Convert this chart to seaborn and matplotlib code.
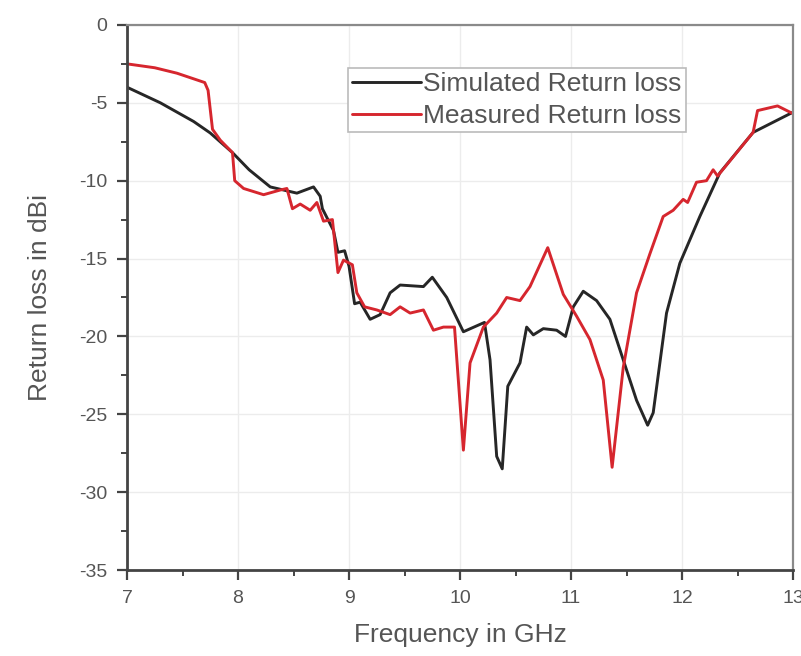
import matplotlib
matplotlib.use("Agg")
import matplotlib.pyplot as plt
from matplotlib.ticker import MultipleLocator
import seaborn as sns
import pandas as pd

# Simulated return loss (frequency in GHz, level in dB)
sim_freq = [7.0, 7.3, 7.6, 7.75, 7.95, 8.1, 8.29, 8.53, 8.68, 8.74, 8.76, 8.86, 8.90,
            8.96, 9.0, 9.05, 9.1, 9.19, 9.28, 9.37, 9.46, 9.67, 9.75, 9.88, 10.03,
            10.22, 10.27, 10.33, 10.38, 10.43, 10.54, 10.6, 10.66, 10.75, 10.87, 10.95,
            11.02, 11.11, 11.23, 11.35, 11.47, 11.59, 11.69, 11.74, 11.86, 11.98, 12.16,
            12.34, 12.64, 13.0]
sim_loss = [-4.0, -5.0, -6.2, -6.94, -8.2, -9.3, -10.4, -10.8, -10.4, -11.0, -11.8,
            -13.2, -14.6, -14.5, -15.5, -17.9, -17.8, -18.9, -18.6, -17.2, -16.7, -16.8,
            -16.2, -17.5, -19.7, -19.1, -21.5, -27.7, -28.5, -23.2, -21.7, -19.4, -19.9,
            -19.5, -19.6, -20.0, -18.1, -17.1, -17.7, -18.9, -21.5, -24.1, -25.7, -24.9,
            -18.5, -15.3, -12.3, -9.5, -6.9, -5.6]

# Measured return loss
meas_freq = [7.0, 7.25, 7.45, 7.70, 7.73, 7.77, 7.84, 7.95, 7.97, 8.05, 8.23, 8.38,
             8.44, 8.49, 8.56, 8.65, 8.71, 8.77, 8.85, 8.90, 8.95, 9.03, 9.07, 9.14,
             9.25, 9.37, 9.46, 9.55, 9.67, 9.76, 9.85, 9.95, 10.03, 10.09, 10.21,
             10.33, 10.42, 10.54, 10.63, 10.79, 10.93, 11.05, 11.17, 11.29, 11.37,
             11.47, 11.59, 11.71, 11.83, 11.92, 12.01, 12.05, 12.13, 12.22, 12.28,
             12.32, 12.64, 12.68, 12.86, 13.0]
meas_loss = [-2.5, -2.75, -3.1, -3.7, -4.2, -6.7, -7.4, -8.2, -10.0, -10.5, -10.9,
             -10.6, -10.5, -11.8, -11.5, -11.9, -11.4, -12.6, -12.5, -15.9, -15.1,
             -15.4, -17.2, -18.1, -18.3, -18.6, -18.1, -18.5, -18.3, -19.6, -19.4,
             -19.4, -27.3, -21.7, -19.4, -18.5, -17.5, -17.7, -16.8, -14.3, -17.3,
             -18.7, -20.2, -22.8, -28.4, -22.0, -17.2, -14.7, -12.3, -11.9, -11.2,
             -11.4, -10.1, -10.0, -9.3, -9.7, -6.9, -5.5, -5.2, -5.7]

series_names = ["Simulated Return loss", "Measured Return loss"]
series_colors = ["#262626", "#d6262e"]

df = pd.concat([
    pd.DataFrame({"freq": sim_freq, "loss": sim_loss, "series": series_names[0]}),
    pd.DataFrame({"freq": meas_freq, "loss": meas_loss, "series": series_names[1]}),
], ignore_index=True)

sns.set_theme(style="white")
plt.rcParams["font.family"] = ["Liberation Sans", "DejaVu Sans"]
plt.rcParams["axes.unicode_minus"] = False

fig = plt.figure(figsize=(8.01, 6.56), dpi=100)
ax = fig.add_axes([0.1586, 0.131, 0.8315, 0.831])

sns.lineplot(data=df, x="freq", y="loss", hue="series", hue_order=series_names,
             palette=series_colors, sort=False, estimator=None, linewidth=2.1, ax=ax)

ax.set_xlim(7, 13)
ax.set_ylim(-35, 0)
ax.xaxis.set_major_locator(MultipleLocator(1))
ax.xaxis.set_minor_locator(MultipleLocator(0.5))
ax.yaxis.set_major_locator(MultipleLocator(5))
ax.yaxis.set_minor_locator(MultipleLocator(2.5))
ax.grid(True, which="major", color="#ececec", linewidth=1.0)

ax.tick_params(axis="both", which="major", direction="out", length=7, width=1.6,
               color="#444444", labelsize=14, labelcolor="#555555", pad=7,
               bottom=True, left=True)
ax.tick_params(axis="both", which="minor", direction="out", length=4, width=1.4,
               color="#444444", bottom=True, left=True)

for side in ["left", "bottom"]:
    ax.spines[side].set_color("#444444")
    ax.spines[side].set_linewidth(2.0)
for side in ["top", "right"]:
    ax.spines[side].set_color("#8a8a8a")
    ax.spines[side].set_linewidth(1.6)

ax.set_xlabel("Frequency in GHz", fontsize=19, color="#555555", labelpad=12)
ax.set_ylabel("Return loss in dBi", fontsize=19, color="#555555", labelpad=20)

leg = ax.legend(loc="upper left", bbox_to_anchor=(0.332, 0.921), borderaxespad=0,
                fontsize=19, frameon=True, fancybox=False, edgecolor="#bbbbbb",
                facecolor="white", framealpha=1, handlelength=2.6, handletextpad=0.1,
                borderpad=0.15, labelspacing=0.3)
for t in leg.get_texts():
    t.set_color("#555555")
leg.get_frame().set_linewidth(1.2)

fig.savefig("out.png", dpi=100)
